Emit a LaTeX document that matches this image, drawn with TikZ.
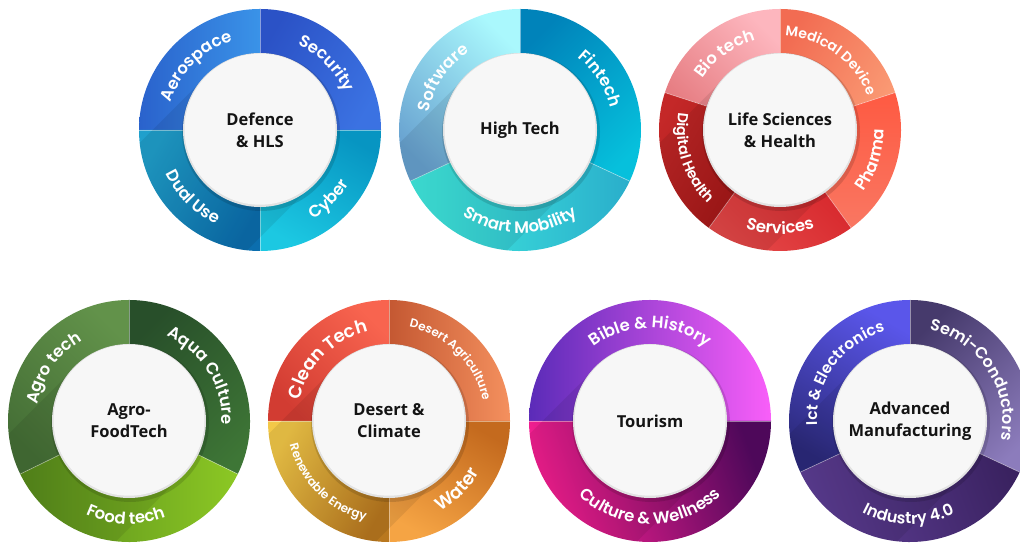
\documentclass[tikz,border=0pt]{standalone}
\usepackage{fontspec}
\usetikzlibrary{decorations.text}
\newfontfamily\lblfont{Poppins}[BoldFont={Poppins SemiBold}]
\newfontfamily\ctrfont{Open Sans}
\newcommand\mysector[6]{% center, a1, a2, colA, colB, shading angle
  \shade[top color=#4, bottom color=#5, shading angle=#6] (#1) -- ([shift={(#2:121)}]#1) arc[start angle=#2, end angle=#3, radius=121] -- cycle;}
\newcommand\mysep[2]{\draw[sepline] (#1) -- ([shift={(#2:121)}]#1);}
\newcommand\cwlabel[5]{% center, mid angle, radius, size, text
  \path[decorate, decoration={text along path, text align=center, text color=white,
    text={|\lblfont\bfseries\fontsize{#4}{#4}\selectfont|#5}}]
    ([shift={(#2+85:#3)}]#1) arc[start angle=#2+85, end angle=#2-85, radius=#3];}
\newcommand\ccwlabel[5]{%
  \path[decorate, decoration={text along path, text align=center, text color=white,
    text={|\lblfont\bfseries\fontsize{#4}{#4}\selectfont|#5}}]
    ([shift={(#2-85:#3)}]#1) arc[start angle=#2-85, end angle=#2+85, radius=#3];}
\newcommand\myhub[3]{% center, node name, text
  \begin{scope}
    \clip (#1) circle[radius=121];
    \fill[black, fill opacity=0.08, rotate around={225:(#1)}] ([yshift=-76pt]#1) rectangle ([xshift=125pt, yshift=76pt]#1);
  \end{scope}
  \fill[black, fill opacity=0.13] ([shift={(1,-2)}]#1) circle[radius=79];
  \fill[hubrim] (#1) circle[radius=77];
  \fill[hubfill] ([yshift=0.8pt]#1) circle[radius=75.5];
  \node[ctr] (#2) at (#1) {#3};}
\tikzset{
  sepline/.style={white, opacity=0.45, line width=0.7pt},
  ctr/.style={align=center, text=black!92, font=\ctrfont\bfseries\fontsize{16.5}{22}\selectfont}
}
\definecolor{hubfill}{HTML}{F7F7F7}
\definecolor{hubrim}{HTML}{E2E2E2}
% ring 1
\definecolor{aeroA}{HTML}{3A93E8}\definecolor{aeroB}{HTML}{2A62CC}
\definecolor{secA}{HTML}{2B52C6}\definecolor{secB}{HTML}{3B72E2}
\definecolor{dualA}{HTML}{20A0CC}\definecolor{dualB}{HTML}{0B6EAE}
\definecolor{cybA}{HTML}{1CC8E2}\definecolor{cybB}{HTML}{0795C2}
% ring 2
\definecolor{softA}{HTML}{AAF8FD}\definecolor{softB}{HTML}{68A2D0}
\definecolor{finA}{HTML}{0083BA}\definecolor{finB}{HTML}{06C0DC}
\definecolor{smA}{HTML}{40ECE0}\definecolor{smB}{HTML}{2AAECB}
% ring 3
\definecolor{bioA}{HTML}{FDB6BE}\definecolor{bioB}{HTML}{E57A7F}
\definecolor{medA}{HTML}{F26C52}\definecolor{medB}{HTML}{FA9A74}
\definecolor{phaA}{HTML}{FE5A42}\definecolor{phaB}{HTML}{F97762}
\definecolor{serA}{HTML}{D42026}\definecolor{serB}{HTML}{E44848}
\definecolor{digA}{HTML}{C42828}\definecolor{digB}{HTML}{9E1414}
% ring 4
\definecolor{agrA}{HTML}{62924A}\definecolor{agrB}{HTML}{456F36}
\definecolor{aquA}{HTML}{284F2A}\definecolor{aquB}{HTML}{3E7636}
\definecolor{fooA}{HTML}{8CC824}\definecolor{fooB}{HTML}{578A1C}
% ring 5
\definecolor{clnA}{HTML}{F8644F}\definecolor{clnB}{HTML}{D23C32}
\definecolor{desA}{HTML}{F4905E}\definecolor{desB}{HTML}{C45832}
\definecolor{renA}{HTML}{F3C848}\definecolor{renB}{HTML}{B9781F}
\definecolor{watA}{HTML}{F5A444}\definecolor{watB}{HTML}{C46A1E}
% ring 6
\definecolor{bibA}{HTML}{F95FF9}\definecolor{bibB}{HTML}{5B2BB8}
\definecolor{culA}{HTML}{F81F92}\definecolor{culB}{HTML}{4E085A}
% ring 7
\definecolor{ictA}{HTML}{5A56EA}\definecolor{ictB}{HTML}{2C2A7C}
\definecolor{semA}{HTML}{463A6C}\definecolor{semB}{HTML}{8C7CBC}
\definecolor{indA}{HTML}{5E3E96}\definecolor{indB}{HTML}{3A2260}
\begin{document}
\begin{tikzpicture}[x=1pt, y=1pt]
\useasboundingbox (0,0) rectangle (1020,545);
\clip (0,0) rectangle (1020,545);
\coordinate (c1) at (260,415);
\coordinate (c2) at (520,415);
\coordinate (c3) at (780,415);
\coordinate (c4) at (129,124);
\coordinate (c5) at (389,124);
\coordinate (c6) at (650,124);
\coordinate (c7) at (910,124);

% ---- Ring 1: Defence & HLS
\mysector{c1}{90}{180}{aeroA}{aeroB}{-90}
\mysector{c1}{0}{90}{secA}{secB}{60}
\mysector{c1}{180}{270}{dualA}{dualB}{60}
\mysector{c1}{270}{360}{cybA}{cybB}{150}
\mysep{c1}{0}\mysep{c1}{90}\mysep{c1}{180}\mysep{c1}{270}
\myhub{c1}{n1}{Defence\\\& HLS}
\cwlabel{c1}{135}{93}{16.5}{Aerospace}
\cwlabel{c1}{45}{93}{16.5}{Security}
\ccwlabel{c1}{225}{104}{16.5}{Dual Use}
\ccwlabel{c1}{315}{104}{16.5}{Cyber}

% ---- Ring 2: High Tech
\mysector{c2}{90}{205}{softA}{softB}{-45}
\mysector{c2}{-25}{90}{finA}{finB}{45}
\mysector{c2}{205}{335}{smA}{smB}{90}
\mysep{c2}{90}\mysep{c2}{205}\mysep{c2}{-25}
\myhub{c2}{n2}{High Tech}
\cwlabel{c2}{146}{93}{16.5}{Software}
\cwlabel{c2}{32.5}{93}{16.5}{Fintech}
\ccwlabel{c2}{270}{103}{16.5}{Smart Mobility}

% ---- Ring 3: Life Sciences & Health
\mysector{c3}{90}{162}{bioA}{bioB}{-45}
\mysector{c3}{18}{90}{medA}{medB}{60}
\mysector{c3}{-54}{18}{phaA}{phaB}{0}
\mysector{c3}{234}{306}{serA}{serB}{-45}
\mysector{c3}{162}{234}{digA}{digB}{60}
\mysep{c3}{90}\mysep{c3}{18}\mysep{c3}{-54}\mysep{c3}{234}\mysep{c3}{162}
\myhub{c3}{n3}{Life Sciences\\\& Health}
\cwlabel{c3}{126}{93}{16.5}{Bio tech}
\cwlabel{c3}{54}{94}{14}{Medical Device}
\ccwlabel{c3}{342}{104}{16.5}{Pharma}
\ccwlabel{c3}{270}{104}{16.5}{Services}
\ccwlabel{c3}{198}{103}{14.5}{Digital Health}

% ---- Ring 4: Agro-FoodTech
\mysector{c4}{90}{206}{agrA}{agrB}{-45}
\mysector{c4}{-26}{90}{aquA}{aquB}{45}
\mysector{c4}{206}{334}{fooA}{fooB}{-90}
\mysep{c4}{90}\mysep{c4}{206}\mysep{c4}{-26}
\myhub{c4}{n4}{Agro-\\FoodTech}
\cwlabel{c4}{145}{93}{16.5}{Agro tech}
\cwlabel{c4}{32}{93}{16.5}{Aqua Culture}
\ccwlabel{c4}{268}{103}{16.5}{Food tech}

% ---- Ring 5: Desert & Climate
\mysector{c5}{90}{180}{clnA}{clnB}{-45}
\mysector{c5}{0}{90}{desA}{desB}{-90}
\mysector{c5}{180}{270}{renA}{renB}{60}
\mysector{c5}{270}{360}{watA}{watB}{150}
\mysep{c5}{0}\mysep{c5}{90}\mysep{c5}{180}\mysep{c5}{270}
\myhub{c5}{n5}{Desert \&\\Climate}
\cwlabel{c5}{135}{92}{18}{Clean Tech}
\cwlabel{c5}{45}{96}{12}{Desert Agriculture}
\ccwlabel{c5}{225}{102}{12}{Renewable Energy}
\ccwlabel{c5}{315}{104}{18}{Water}

% ---- Ring 6: Tourism
\mysector{c6}{0}{180}{bibA}{bibB}{-90}
\mysector{c6}{180}{360}{culA}{culB}{110}
\mysep{c6}{0}\mysep{c6}{180}
\myhub{c6}{n6}{Tourism}
\cwlabel{c6}{90}{93}{16.5}{Bible {\&} History}
\ccwlabel{c6}{270}{103}{16.5}{Culture {\&} Wellness}

% ---- Ring 7: Advanced Manufacturing
\mysector{c7}{90}{205}{ictA}{ictB}{-30}
\mysector{c7}{-25}{90}{semA}{semB}{45}
\mysector{c7}{205}{335}{indA}{indB}{110}
\mysep{c7}{90}\mysep{c7}{205}\mysep{c7}{-25}
\myhub{c7}{n7}{Advanced\\Manufacturing}
\cwlabel{c7}{144}{93}{15.5}{Ict {\&} Electronics}
\cwlabel{c7}{33}{93}{16}{Semi-Conductors}
\ccwlabel{c7}{269}{103}{16}{Industry 4.0}
\end{tikzpicture}
\end{document}
